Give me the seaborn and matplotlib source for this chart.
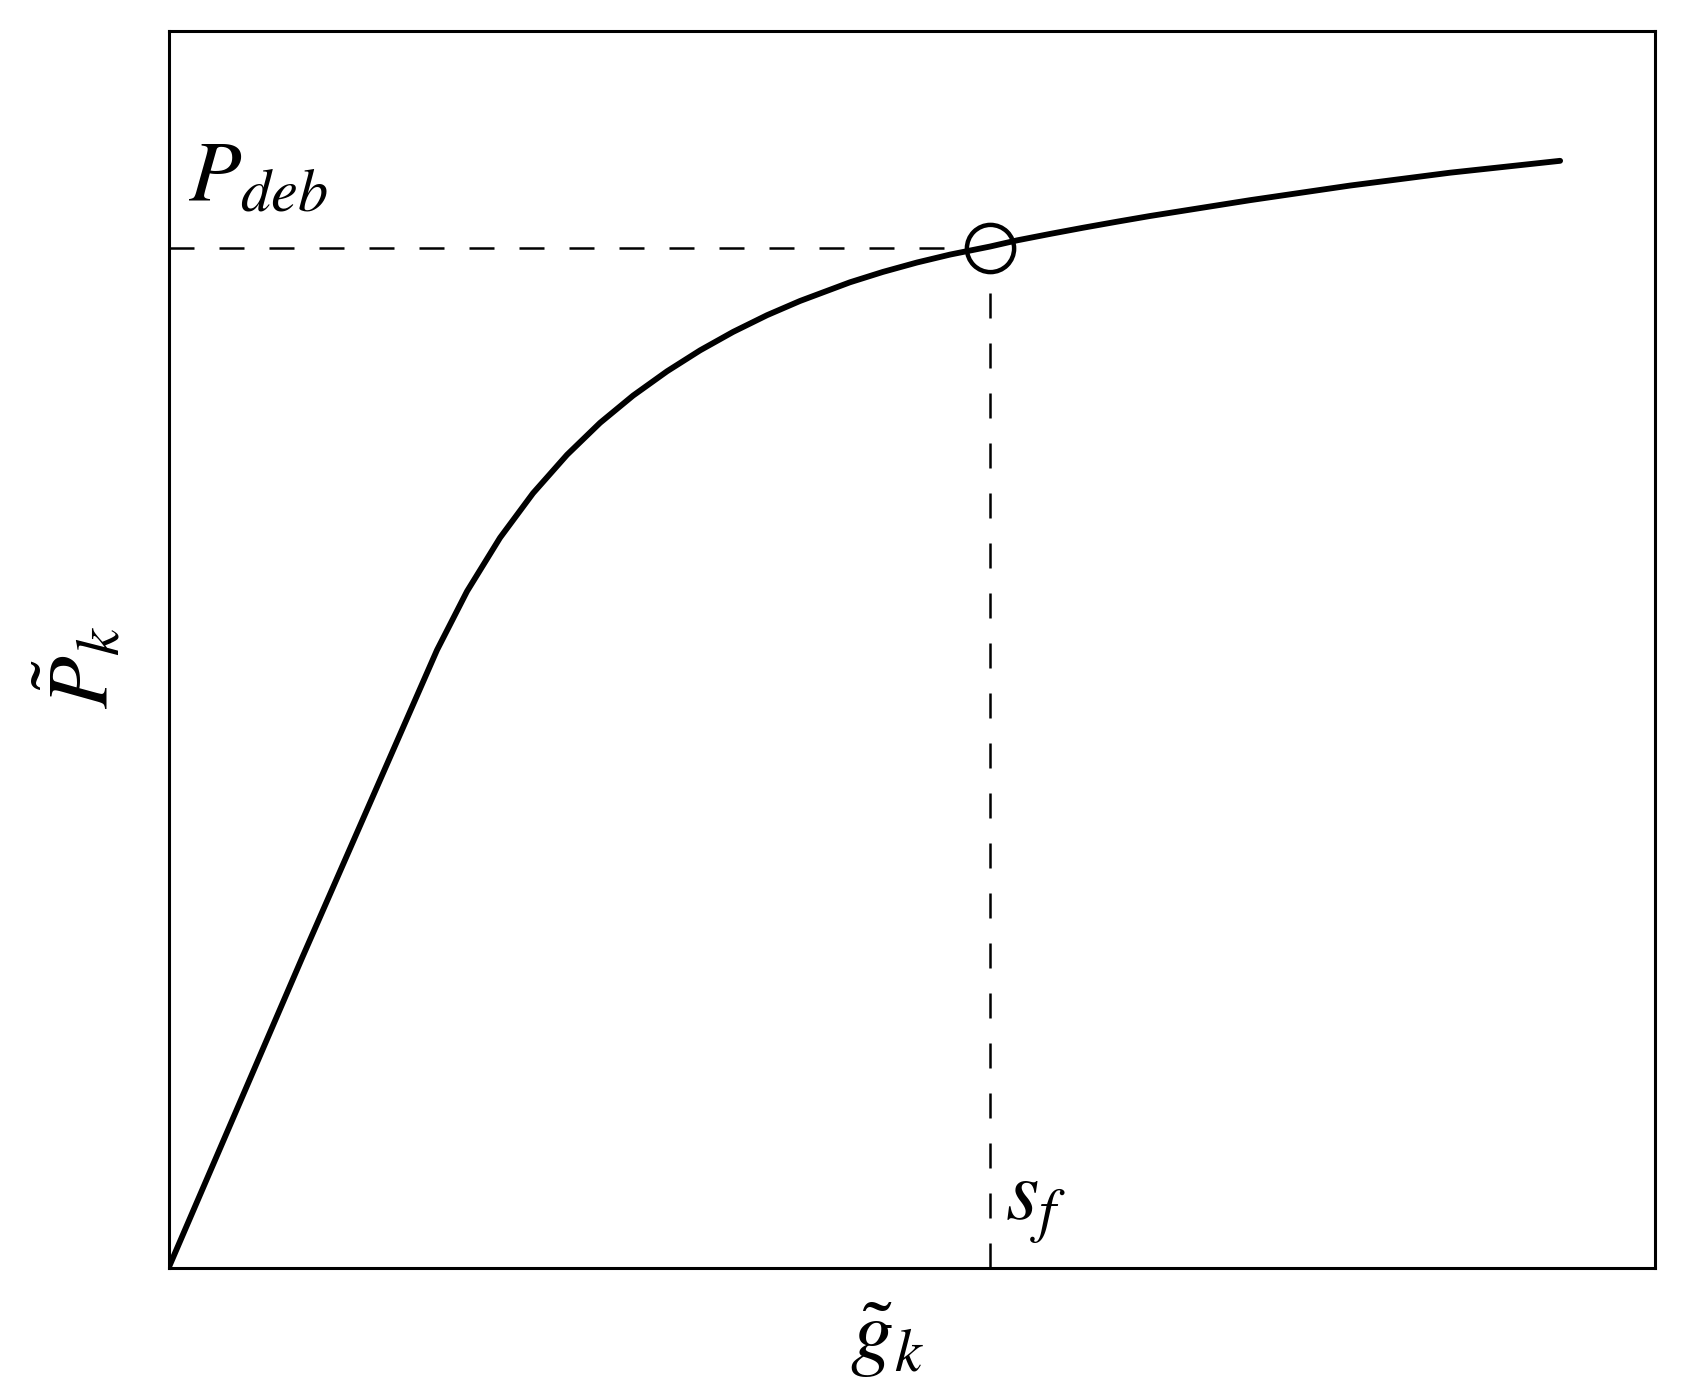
import numpy as np
import pandas as pd
import seaborn as sns
import matplotlib.pyplot as plt

# curve (axes units 0..1)
gap = [0.0, 0.0898, 0.1806, 0.2008, 0.2230, 0.2452, 0.2681, 0.2903, 0.3125,
       0.3354, 0.3576, 0.3798, 0.4026, 0.4248, 0.4584, 0.4806, 0.5035,
       0.5257, 0.5526, 0.5708, 0.5930, 0.6152, 0.6381, 0.6603, 0.7276,
       0.7948, 0.8621, 0.9361]
load = [0.0, 0.2506, 0.4996, 0.5471, 0.5904, 0.6264, 0.6575, 0.6833, 0.7053,
        0.7250, 0.7419, 0.7568, 0.7703, 0.7818, 0.7969, 0.8053, 0.8129,
        0.8193, 0.8258, 0.8308, 0.8360, 0.8410, 0.8459, 0.8505, 0.8633,
        0.8751, 0.8855, 0.8951]

# debonding point
s_f = 0.5526
p_deb = 0.8250

sns.set_style('white')
plt.rcParams['mathtext.fontset'] = 'stix'
plt.rcParams['font.family'] = ['STIXGeneral', 'DejaVu Serif']
plt.rcParams['text.color'] = 'black'

fig = plt.figure(figsize=(16.87, 13.99), dpi=100)
ax = fig.add_axes([0.0999, 0.0936, 0.8812, 0.8842])

df = pd.DataFrame({'gap': gap, 'load': load})
sns.lineplot(data=df, x='gap', y='load', ax=ax, color='black', lw=4.2,
             sort=False, estimator=None)

# dashed guides up to the circle edge
ax.plot([0, s_f - 0.017], [p_deb, p_deb], color='black', lw=1.8,
        linestyle=(0, (10, 10)))
ax.plot([s_f, s_f], [0, p_deb - 0.021], color='black', lw=1.8,
        linestyle=(0, (10, 10)))
ax.plot([s_f], [p_deb], marker='o', ms=34, mfc='none', mec='black', mew=3.2)

ax.set_xlim(0, 1)
ax.set_ylim(0, 1)
ax.set_xticks([])
ax.set_yticks([])
ax.set_xlabel('')
ax.set_ylabel('')
for sp in ax.spines.values():
    sp.set_color('black')
    sp.set_linewidth(2.2)

ax.text(0.013, 0.863, r'$P_{deb}$', fontsize=62, va='baseline', ha='left',
        color='black', transform=ax.transAxes)
ax.text(0.563, 0.039, r'$s_f$', fontsize=62, va='baseline', ha='left',
        color='black', transform=ax.transAxes)
fig.text(0.048, 0.523, r'$\tilde{P}_k$', fontsize=62, rotation=90,
         ha='center', va='center', color='black')
fig.text(0.526, 0.042, r'$\tilde{g}_k$', fontsize=62, ha='center',
         va='center', color='black')

plt.savefig('out.png', dpi=100)
